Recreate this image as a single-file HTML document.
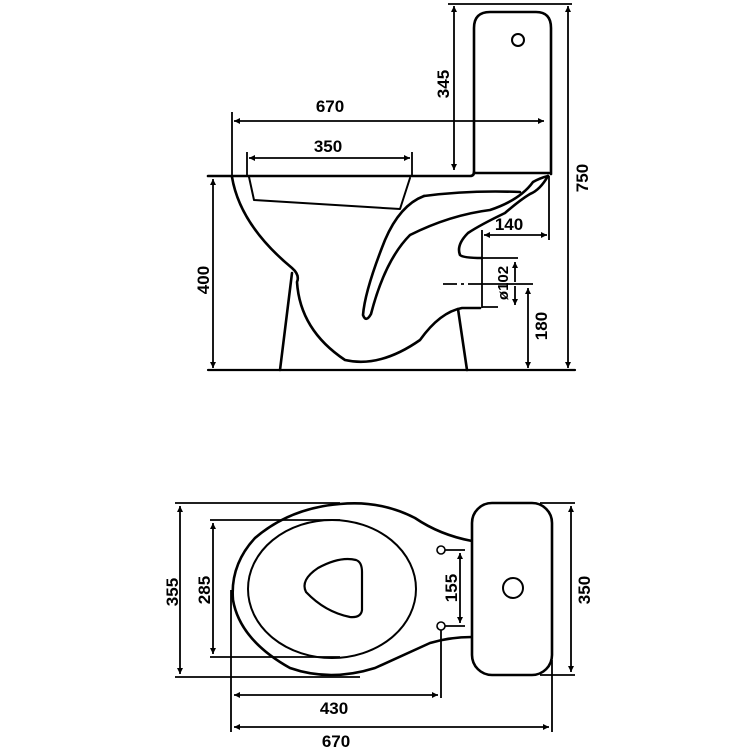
<!DOCTYPE html>
<html><head><meta charset="utf-8"><style>html,body{margin:0;padding:0;background:#fff}svg{display:block}</style></head>
<body>
<svg width="750" height="750" viewBox="0 0 750 750" xmlns="http://www.w3.org/2000/svg">
<defs>
<marker id="a" viewBox="0 0 10 10" refX="10" refY="5" markerWidth="9" markerHeight="6" orient="auto-start-reverse" markerUnits="userSpaceOnUse"><path d="M0,0 L10,5 L0,10 z" fill="#000"/></marker>
</defs>
<g fill="none" stroke="#000" stroke-width="2.6" stroke-linejoin="round" stroke-linecap="round">
<path d="M474,172 L474,28 Q474,12 490,12 L536,12 Q551,12 551,28 L551,174"/>
<circle cx="518" cy="40" r="6" stroke-width="2"/>
<path d="M208,176 L470,176 Q474,176 474,172"/>
<path d="M474,173 L549,173"/>
<path d="M232,177 Q240,225 292,268 Q300,275 297,282 Q300,330 345,360 Q380,368 420,340 Q440,312 462,308 L480,308"/>
<path d="M292,273 L280,370"/>
<path d="M458,309 L467,370"/>
<path d="M249,177 L254,200 L400,209 L410,178" stroke-width="2"/>
<path d="M424,196 Q400,205 385,240 Q365,290 363,315 Q366,323 371,314 Q385,260 410,235 Q450,215 490,210 Q520,200 533,182 Q540,178 548,176"/>
<path d="M548,176 Q540,190 530,194 Q520,200 505,213 Q480,225 468,233 Q456,245 460,255 Q463,258 482,258"/>
<path d="M424,196 Q470,190 520,192"/>
<path d="M208,370 L575,370" stroke-width="2.2"/>
</g>
<g fill="none" stroke="#000" stroke-width="1.8">
<path d="M448,4 L572,4"/>
<path d="M568,6 L568,368" marker-start="url(#a)" marker-end="url(#a)"/>
<path d="M454,6 L454,170" marker-start="url(#a)" marker-end="url(#a)"/>
<path d="M232,112 L232,176"/>
<path d="M234,121 L544,121" marker-start="url(#a)" marker-end="url(#a)"/>
<path d="M247,152 L247,176 M412,152 L412,176"/>
<path d="M249,158 L410,158" marker-start="url(#a)" marker-end="url(#a)"/>
<path d="M213,179 L213,368" marker-start="url(#a)" marker-end="url(#a)"/>
<path d="M482,230 L482,308 M549,176 L549,240"/>
<path d="M484,235 L547,235" marker-start="url(#a)" marker-end="url(#a)"/>
<path d="M482,258 L518,258 M482,307 L498,307"/>
<path d="M515,262 L515,282" marker-start="url(#a)"/>
<path d="M515,286 L515,305" marker-end="url(#a)"/>
<path d="M443,284 L457,284 M461,284 L464,284 M468,284 L533,284"/>
<path d="M528,288 L528,368" marker-start="url(#a)" marker-end="url(#a)"/>
</g>
<g fill="none" stroke="#000" stroke-width="2.6" stroke-linejoin="round">
<path d="M472,541 Q440,535 415,518 Q380,500 340,504 Q290,508 255,538 Q230,565 233,600 Q240,640 290,668 Q330,682 375,668 Q410,652 430,643 Q450,637 472,637"/>
<ellipse cx="332" cy="589" rx="84" ry="69" stroke-width="2"/>
<path d="M306,592 Q300,580 318,568 Q340,556 356,560 Q362,562 362,572 L362,610 Q361,618 350,617 Q325,612 306,592 Z" stroke-width="2.2"/>
<rect x="472" y="503" width="80" height="172" rx="20" ry="20"/>
<circle cx="513" cy="588" r="10" stroke-width="2"/>
</g>
<g fill="#fff" stroke="#000" stroke-width="1.6">
<circle cx="441" cy="550" r="4"/><circle cx="441" cy="626" r="4"/>
</g>
<g fill="none" stroke="#000" stroke-width="1.8">
<path d="M175,503 L340,503 M175,677 L360,677"/>
<path d="M180,506 L180,674" marker-start="url(#a)" marker-end="url(#a)"/>
<path d="M210,520 L340,520 M210,657 L340,657"/>
<path d="M213,523 L213,654" marker-start="url(#a)" marker-end="url(#a)"/>
<path d="M445,550 L465,550 M445,626 L465,626"/>
<path d="M460,553 L460,623" marker-start="url(#a)" marker-end="url(#a)"/>
<path d="M540,503 L575,503 M540,675 L575,675"/>
<path d="M571,506 L571,672" marker-start="url(#a)" marker-end="url(#a)"/>
<path d="M231,590 L231,732 M441,630 L441,698 M552,660 L552,732"/>
<path d="M234,695 L438,695" marker-start="url(#a)" marker-end="url(#a)"/>
<path d="M234,727 L549,727" marker-start="url(#a)" marker-end="url(#a)"/>
</g>
<g font-family="Liberation Sans, sans-serif" font-weight="bold" font-size="17" fill="#000" text-anchor="middle">
<text x="330" y="112">670</text>
<text x="328" y="152">350</text>
<text x="509" y="230">140</text>
<text transform="translate(449,84) rotate(-90)">345</text>
<text transform="translate(588,178) rotate(-90)">750</text>
<text transform="translate(209,280) rotate(-90)">400</text>
<text transform="translate(508,283) rotate(-90)" font-size="15">ø102</text>
<text transform="translate(547,326) rotate(-90)">180</text>
<text transform="translate(178,592) rotate(-90)">355</text>
<text transform="translate(210,590) rotate(-90)">285</text>
<text transform="translate(457,588) rotate(-90)">155</text>
<text transform="translate(590,590) rotate(-90)">350</text>
<text x="334" y="714">430</text>
<text x="336" y="747">670</text>
</g>
</svg>
</body></html>
